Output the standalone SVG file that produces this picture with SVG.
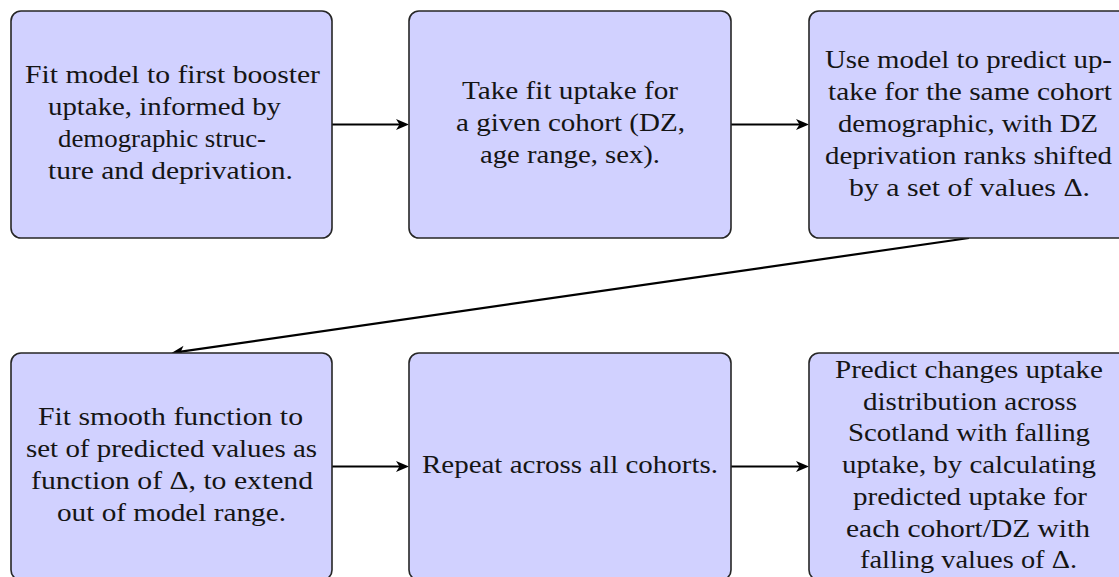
<svg xmlns="http://www.w3.org/2000/svg" width="1119" height="577" viewBox="0 0 1119 577">
<style>
.box{fill:#d1d1ff;stroke:#262626;stroke-width:1.6}
.t{font-family:"Liberation Serif","Times New Roman",serif;font-size:25px;fill:#151515}
.c{stroke:#000;stroke-width:2.2;fill:none}
</style>
<defs>
<marker id="arr" markerUnits="userSpaceOnUse" viewBox="0 0 14 12" markerWidth="14" markerHeight="12" refX="7" refY="6" orient="auto">
<path d="M0,0.5 L13,6 L0,11.5 L3.5,6 Z" fill="#000"/>
</marker>
</defs>
<rect width="1119" height="577" fill="#fff"/>
<g id="connectors">
<line class="c" x1="332" y1="124.5" x2="403" y2="124.5" marker-end="url(#arr)"/>
<line class="c" x1="731" y1="124.5" x2="803" y2="124.5" marker-end="url(#arr)"/>
<line class="c" x1="969" y1="238" x2="177.4" y2="352.1" marker-end="url(#arr)"/>
<line class="c" x1="332" y1="466.5" x2="403" y2="466.5" marker-end="url(#arr)"/>
<line class="c" x1="731" y1="466.5" x2="803" y2="466.5" marker-end="url(#arr)"/>
</g>
<g id="n1">
<rect class="box" x="11" y="11" width="321" height="227" rx="10"/>
<text class="t" x="25" y="83" textLength="295" lengthAdjust="spacingAndGlyphs">Fit model to first booster</text>
<text class="t" x="48" y="115" textLength="233" lengthAdjust="spacingAndGlyphs">uptake, informed by</text>
<text class="t" x="58" y="147" textLength="208" lengthAdjust="spacingAndGlyphs">demographic struc-</text>
<text class="t" x="48" y="179" textLength="245" lengthAdjust="spacingAndGlyphs">ture and deprivation.</text>
</g>
<g id="n2">
<rect class="box" x="409" y="11" width="322" height="227" rx="10"/>
<text class="t" x="462" y="99" textLength="216" lengthAdjust="spacingAndGlyphs">Take fit uptake for</text>
<text class="t" x="456" y="131" textLength="229" lengthAdjust="spacingAndGlyphs">a given cohort (DZ,</text>
<text class="t" x="480" y="163" textLength="180" lengthAdjust="spacingAndGlyphs">age range, sex).</text>
</g>
<g id="n3">
<rect class="box" x="809" y="11" width="321" height="227" rx="10"/>
<text class="t" x="825" y="68" textLength="287" lengthAdjust="spacingAndGlyphs">Use model to predict up-</text>
<text class="t" x="828" y="100" textLength="284" lengthAdjust="spacingAndGlyphs">take for the same cohort</text>
<text class="t" x="838" y="132" textLength="260" lengthAdjust="spacingAndGlyphs">demographic, with DZ</text>
<text class="t" x="825" y="164" textLength="287" lengthAdjust="spacingAndGlyphs">deprivation ranks shifted</text>
<text class="t" x="849" y="196" textLength="241" lengthAdjust="spacingAndGlyphs">by a set of values Δ.</text>
</g>
<g id="n4">
<rect class="box" x="11" y="353" width="321" height="227" rx="10"/>
<text class="t" x="38" y="425" textLength="265" lengthAdjust="spacingAndGlyphs">Fit smooth function to</text>
<text class="t" x="26" y="457" textLength="291" lengthAdjust="spacingAndGlyphs">set of predicted values as</text>
<text class="t" x="31" y="489" textLength="282" lengthAdjust="spacingAndGlyphs">function of Δ, to extend</text>
<text class="t" x="57" y="521" textLength="229" lengthAdjust="spacingAndGlyphs">out of model range.</text>
</g>
<g id="n5">
<rect class="box" x="409" y="353" width="322" height="227" rx="10"/>
<text class="t" x="422" y="473" textLength="296" lengthAdjust="spacingAndGlyphs">Repeat across all cohorts.</text>
</g>
<g id="n6">
<rect class="box" x="809" y="353" width="321" height="227" rx="10"/>
<text class="t" x="835" y="378" textLength="268" lengthAdjust="spacingAndGlyphs">Predict changes uptake</text>
<text class="t" x="863" y="410" textLength="214" lengthAdjust="spacingAndGlyphs">distribution across</text>
<text class="t" x="848" y="441" textLength="242" lengthAdjust="spacingAndGlyphs">Scotland with falling</text>
<text class="t" x="842" y="473" textLength="254" lengthAdjust="spacingAndGlyphs">uptake, by calculating</text>
<text class="t" x="853" y="505" textLength="234" lengthAdjust="spacingAndGlyphs">predicted uptake for</text>
<text class="t" x="846" y="537" textLength="244" lengthAdjust="spacingAndGlyphs">each cohort/DZ with</text>
<text class="t" x="860" y="568" textLength="217" lengthAdjust="spacingAndGlyphs">falling values of Δ.</text>
</g>
</svg>
